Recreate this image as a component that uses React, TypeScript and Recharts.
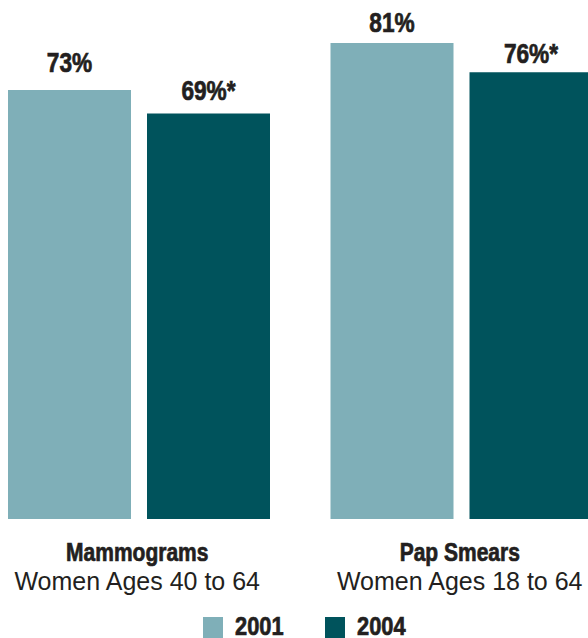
import React from "react";
import { BarChart, Bar, XAxis, YAxis, Legend, LabelList } from "recharts";

const categories = ["Mammograms", "Pap Smears"];
const subtitles = ["Women Ages 40 to 64", "Women Ages 18 to 64"];
const values2001 = [73, 81];
const values2004 = [69, 76];
const labels2001 = ["73%", "81%"];
const labels2004 = ["69%*", "76%*"];
const seriesNames = ["2001", "2004"];

const COLOR_2001 = "#7FAFB8";
const COLOR_2004 = "#00535C";
const TEXT = "#231F20";
const FONT = "'Liberation Sans', Arial, Helvetica, sans-serif";
const SQUEEZE = 0.84;

const data = categories.map((c, i) => ({
  name: c,
  y2001: values2001[i],
  y2004: values2004[i],
}));

const gap2001 = [18, 11];
const gap2004 = [13, 9];

const Condensed = ({ x, y, anchor = "middle", size = 26, children }: any) => (
  <text
    transform={`translate(${x},${y}) scale(${SQUEEZE},1)`}
    x={0}
    y={0}
    textAnchor={anchor}
    fontFamily={FONT}
    fontWeight="bold"
    fontSize={size}
    fill={TEXT}
    stroke={TEXT}
    strokeWidth={0.7}
  >
    {children}
  </text>
);

const makeLabel = (labels: string[], gaps: number[]) => (props: any) => {
  const { x, y, width, index } = props;
  return (
    <Condensed x={Number(x) + Number(width) / 2} y={Number(y) - gaps[index]} size={27}>
      {labels[index]}
    </Condensed>
  );
};

const Tick = (props: any) => {
  const { x, y, payload, index } = props;
  return (
    <g>
      <Condensed x={x - 2} y={y + 42} size={25}>
        {payload.value}
      </Condensed>
      <text x={x - 2} y={y + 71} textAnchor="middle" fontFamily={FONT} fontSize={25} fill={TEXT}>
        {subtitles[index]}
      </text>
    </g>
  );
};

const LegendContent = () => (
  <svg width={645} height={30} style={{ display: "block", overflow: "visible" }}>
    <rect x={225} y={9} width={20} height={21} fill={COLOR_2001} />
    <Condensed x={257} y={27} anchor="start" size={26}>
      {seriesNames[0]}
    </Condensed>
    <rect x={347} y={9} width={20} height={21} fill={COLOR_2004} />
    <Condensed x={379} y={27} anchor="start" size={26}>
      {seriesNames[1]}
    </Condensed>
  </svg>
);

export default function App() {
  return (
    <div style={{ position: "absolute", left: 0, top: 0, width: 588, height: 638, overflow: "hidden", background: "#fff" }}>
      <div style={{ position: "absolute", left: -22, top: 0 }}>
        <BarChart width={645} height={638} data={data} margin={{ top: 0, right: 0, bottom: 0, left: 0 }} barGap={16}>
          <YAxis hide domain={[0, 88.3]} />
          <XAxis
            dataKey="name"
            height={89}
            axisLine={false}
            tickLine={false}
            tickSize={0}
            tickMargin={0}
            interval={0}
            tick={<Tick />}
          />
          <Legend verticalAlign="bottom" height={30} content={<LegendContent />} wrapperStyle={{ lineHeight: 0 }} />
          <Bar dataKey="y2001" name={seriesNames[0]} fill={COLOR_2001} barSize={123} isAnimationActive={false}>
            <LabelList dataKey="y2001" content={makeLabel(labels2001, gap2001)} />
          </Bar>
          <Bar dataKey="y2004" name={seriesNames[1]} fill={COLOR_2004} barSize={123} isAnimationActive={false}>
            <LabelList dataKey="y2004" content={makeLabel(labels2004, gap2004)} />
          </Bar>
        </BarChart>
      </div>
    </div>
  );
}
